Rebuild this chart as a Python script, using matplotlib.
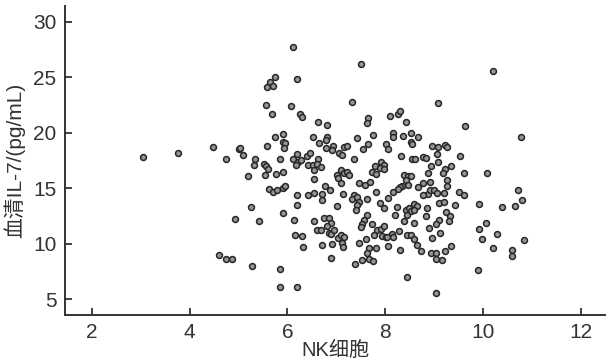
import matplotlib
matplotlib.use("Agg")
import matplotlib.pyplot as plt

plt.rcParams['font.family'] = ['Liberation Sans', 'Noto Sans CJK SC', 'DejaVu Sans']

nk_cells = [
    3.04, 3.77, 4.47, 4.74, 5.00, 5.10, 5.33, 5.31, 5.20, 5.26, 4.93, 5.42, 4.61, 4.74, 4.87, 5.27,
    6.11, 7.51, 5.74, 5.65, 5.58, 5.70, 6.20, 5.57, 5.68, 6.08, 7.33, 6.25, 6.30, 6.62, 6.82, 7.64,
    7.62, 8.09, 8.26, 8.30, 8.42, 9.09, 5.75, 5.92, 5.59, 5.91, 5.95, 5.93, 6.52, 6.64, 6.82, 6.79,
    6.79, 6.94, 6.91, 7.06, 7.12, 7.16, 7.21, 7.42, 7.64, 7.55, 7.76, 8.02, 8.06, 8.15, 8.17, 8.37,
    8.52, 8.67, 8.53, 8.54, 8.95, 9.08, 9.06, 5.03, 5.85, 6.12, 6.20, 6.40, 6.47, 6.62, 7.36, 8.33,
    8.55, 8.60, 8.78, 8.84, 10.20, 9.64, 10.78, 9.22, 9.27, 9.53, 9.09,
    8.93, 9.34, 9.23, 9.19, 8.87, 9.61, 10.09, 9.27, 9.27, 8.78, 8.92, 8.87, 8.77, 8.92, 9.00, 9.07,
    9.21, 9.52, 9.61, 10.71, 10.79, 10.66, 9.92, 10.38, 9.10, 9.21, 9.42, 8.85, 9.24, 9.32, 9.30,
    8.84, 9.10, 9.04, 10.07, 9.92, 10.29, 8.90, 9.12, 8.96, 9.99, 10.83, 10.21, 9.34, 9.23, 8.73,
    8.93, 9.04, 9.03, 9.17, 10.59, 10.59, 9.90, 9.03,
    5.53, 5.57, 5.60, 5.55, 5.77, 5.92, 6.21, 6.28, 6.18, 6.43, 5.63, 5.70, 5.78, 5.90, 5.95, 6.20,
    6.43, 6.20, 5.92, 6.13, 6.15, 6.29, 6.32, 5.85, 5.85, 6.20, 8.45,
    6.53, 6.61, 6.55, 6.68, 7.09, 7.16, 7.01, 7.04, 7.09, 7.22, 7.27, 7.80, 7.92, 7.98, 7.73, 7.81,
    7.90, 7.97, 7.46, 7.59, 7.68, 7.82, 6.54, 6.77, 6.87, 6.55, 6.70, 7.14, 7.37,
    6.70, 7.01, 7.32, 7.42, 7.46, 7.62, 7.42, 7.40, 7.90, 7.98, 8.05, 7.62, 7.57, 7.53, 7.51, 6.55,
    6.75, 6.85, 6.90, 6.82, 6.61, 6.69, 6.85, 6.89, 6.96, 7.03, 7.10, 7.16, 7.12, 7.14, 6.70, 6.92,
    6.90, 7.73, 7.83, 7.92, 7.97, 7.78, 7.94, 8.02, 7.61, 7.47, 7.67, 7.63, 7.82, 8.05, 7.53, 7.66,
    7.75, 7.39, 8.30, 8.44, 8.52, 8.59, 8.65,
    8.39, 8.46, 8.53, 8.43, 8.46, 8.35, 8.30, 8.27, 8.17, 8.67,
    8.25, 8.20, 8.42, 8.48, 8.53, 8.59, 8.65, 8.58, 8.44, 8.39, 8.59, 8.28, 8.13, 8.17, 8.04,
]

il7 = [
    17.8, 18.2, 18.7, 17.6, 18.5, 18.0, 17.6, 17.1, 16.1, 13.3, 12.2, 12.0, 9.0, 8.6, 8.6, 8.0,
    27.7, 26.2, 25.0, 24.6, 24.1, 24.2, 24.8, 22.5, 21.7, 22.4, 22.8, 21.7, 21.4, 21.0, 20.7, 21.3,
    20.9, 21.5, 21.7, 22.0, 21.0, 22.7, 19.6, 19.9, 18.8, 19.2, 19.1, 18.6, 19.6, 19.1, 19.6, 19.3,
    18.6, 18.8, 18.4, 18.2, 18.0, 18.7, 18.8, 19.5, 19.0, 18.5, 19.8, 19.0, 18.5, 20.0, 19.6, 19.7,
    20.0, 19.6, 19.2, 19.0, 18.8, 18.7, 18.1, 18.6, 17.6, 17.6, 18.1, 17.9, 18.2, 17.6, 17.6, 17.9,
    17.6, 17.6, 17.8, 17.7, 25.6, 20.6, 19.6, 18.9, 18.7, 17.9, 17.4,
    17.0, 17.0, 16.7, 16.4, 16.4, 16.4, 16.4, 15.7, 15.2, 15.5, 15.6, 14.5, 14.4, 14.8, 14.8, 14.6,
    14.6, 14.7, 14.4, 14.8, 13.9, 13.4, 13.6, 13.3, 13.7, 13.8, 13.5, 13.2, 12.9, 12.5, 12.0,
    12.5, 12.1, 11.8, 11.9, 11.3, 10.9, 11.4, 11.0, 10.5, 10.4, 10.3, 9.6, 9.8, 9.3, 9.3,
    9.2, 9.2, 8.6, 8.5, 9.4, 8.9, 7.6, 5.6,
    17.2, 17.0, 16.7, 16.2, 16.3, 16.5, 17.4, 17.5, 17.1, 17.1, 14.9, 14.7, 14.8, 15.0, 15.2, 14.4,
    14.4, 13.5, 12.8, 12.1, 10.8, 10.7, 9.7, 7.7, 6.1, 6.1, 7.0,
    17.1, 17.2, 16.6, 16.9, 16.6, 16.4, 16.2, 15.9, 15.5, 16.5, 16.2, 17.0, 17.4, 17.1, 16.5, 16.3,
    16.8, 16.7, 15.5, 15.3, 15.6, 14.7, 15.8, 15.2, 14.8, 14.6, 14.5, 14.5, 14.4,
    13.9, 13.4, 14.0, 14.2, 13.8, 14.0, 13.5, 13.0, 13.7, 13.2, 14.1, 12.6, 12.1, 11.8, 11.5, 12.0,
    12.3, 12.3, 11.9, 11.6, 11.2, 11.2, 11.0, 10.85, 11.2, 10.5, 10.8, 10.6, 10.1, 9.7, 9.9, 10.0,
    8.7, 11.8, 11.2, 11.3, 11.6, 10.8, 10.7, 10.6, 10.4, 10.1, 9.6, 9.2, 9.6, 9.8, 8.5, 8.6,
    8.4, 8.2, 9.4, 10.8, 10.8, 10.4, 9.9,
    16.2, 16.1, 16.1, 15.7, 15.3, 15.2, 15.1, 14.9, 14.7, 15.1,
    13.3, 12.6, 13.0, 13.2, 12.97, 13.6, 13.4, 13.0, 12.6, 12.0, 11.9, 11.1, 10.85, 10.6, 10.6,
]

x_ticks = [2, 4, 6, 8, 10, 12]
y_ticks = [5, 10, 15, 20, 25, 30]
x_label = "NK细胞"
y_label = "血清IL-7/(pg/mL)"

fig = plt.figure(figsize=(6.07, 3.63), dpi=100)
ax = fig.add_axes([0.107, 0.133, 0.89, 0.850])

ax.scatter(nk_cells, il7, s=18, facecolor='#969696', edgecolor='#262626',
           linewidths=1.1, zorder=3)

ax.set_xlim(1.45, 12.5)
ax.set_ylim(3.6, 31.4)
ax.set_xticks(x_ticks)
ax.set_yticks(y_ticks)

for side in ['top', 'right']:
    ax.spines[side].set_visible(False)
for side in ['left', 'bottom']:
    ax.spines[side].set_linewidth(1.4)
    ax.spines[side].set_color('#333333')

ax.tick_params(direction='in', length=5, width=1.3, color='#333333',
               labelsize=15, labelcolor='#333333', pad=6)

ax.set_xlabel(x_label, fontsize=14.5, color='#333333', labelpad=-1)
ax.set_ylabel(y_label, fontsize=15, color='#333333', labelpad=6)

fig.savefig("out.png", dpi=100)
